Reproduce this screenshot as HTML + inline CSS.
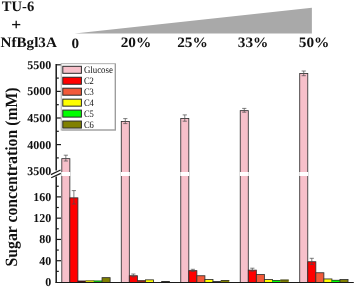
<!DOCTYPE html>
<html><head><meta charset="utf-8"><style>
html,body{margin:0;padding:0;background:#fff;}
svg{display:block;filter:blur(0.2px);}
text{font-family:"Liberation Serif",serif;fill:#111;text-rendering:geometricPrecision;}
.tl{font-size:12px;font-weight:bold;}
.hd{font-size:14.4px;font-weight:bold;}
.lg{font-size:9.9px;}
.yt{font-size:15.6px;font-weight:bold;}
</style></head><body>
<svg width="355" height="287" viewBox="0 0 355 287">
<rect width="355" height="287" fill="#fff"/>
<polygon points="74.6,33.4 311.9,7.8 311.9,33.4" fill="#a9a9a9"/>
<text x="1.8" y="10.8" class="hd" textLength="32.4" lengthAdjust="spacingAndGlyphs">TU-6</text>
<line x1="12.1" y1="24.6" x2="20.3" y2="24.6" stroke="#111" stroke-width="1.3"/>
<line x1="16.2" y1="20.8" x2="16.2" y2="28.3" stroke="#111" stroke-width="1.3"/>
<text x="0.6" y="47.2" class="hd" textLength="56.2" lengthAdjust="spacingAndGlyphs">NfBgl3A</text>
<text x="71.5" y="47.5" class="hd" textLength="7.6" lengthAdjust="spacingAndGlyphs">0</text>
<text x="120.7" y="47.4" class="hd" textLength="30.6" lengthAdjust="spacingAndGlyphs">20%</text>
<text x="177.2" y="47.4" class="hd" textLength="30.6" lengthAdjust="spacingAndGlyphs">25%</text>
<text x="237.8" y="47.4" class="hd" textLength="30.6" lengthAdjust="spacingAndGlyphs">33%</text>
<text x="298.8" y="47.4" class="hd" textLength="30.6" lengthAdjust="spacingAndGlyphs">50%</text>
<text transform="translate(16.6,266.4) scale(1.1,1) rotate(-90)" class="yt" textLength="179.0" lengthAdjust="spacingAndGlyphs">Sugar concentration (mM)</text>
<text x="51.3" y="175.20" text-anchor="end" class="tl">3500</text>
<text x="51.3" y="148.60" text-anchor="end" class="tl">4000</text>
<text x="51.3" y="122.00" text-anchor="end" class="tl">4500</text>
<text x="51.3" y="95.40" text-anchor="end" class="tl">5000</text>
<text x="51.3" y="68.80" text-anchor="end" class="tl">5500</text>
<text x="51.3" y="286.00" text-anchor="end" class="tl">0</text>
<text x="51.3" y="264.72" text-anchor="end" class="tl">40</text>
<text x="51.3" y="243.44" text-anchor="end" class="tl">80</text>
<text x="51.3" y="222.16" text-anchor="end" class="tl">120</text>
<text x="51.3" y="200.88" text-anchor="end" class="tl">160</text>
<rect x="61.80" y="158.65" width="8.05" height="123.80" fill="#f7c0ca" stroke="#303030" stroke-width="0.85"/>
<rect x="61.30" y="172.0" width="9.05" height="4.0" fill="#fff"/>
<line x1="65.83" y1="155.20" x2="65.83" y2="161.00" stroke="#4a4a4a" stroke-width="0.7"/>
<line x1="63.73" y1="155.20" x2="67.92" y2="155.20" stroke="#4a4a4a" stroke-width="0.7"/>
<line x1="63.73" y1="161.00" x2="67.92" y2="161.00" stroke="#4a4a4a" stroke-width="0.7"/>
<rect x="69.85" y="197.85" width="8.05" height="84.60" fill="#ff0000" stroke="#303030" stroke-width="0.85"/>
<line x1="73.88" y1="190.60" x2="73.88" y2="204.00" stroke="#4a4a4a" stroke-width="0.7"/>
<line x1="71.78" y1="190.60" x2="75.97" y2="190.60" stroke="#4a4a4a" stroke-width="0.7"/>
<line x1="71.78" y1="204.00" x2="75.97" y2="204.00" stroke="#4a4a4a" stroke-width="0.7"/>
<rect x="77.70" y="280.80" width="8.45" height="1.50" fill="#5a1010"/>
<line x1="77.70" y1="281.10" x2="86.15" y2="281.10" stroke="#222" stroke-width="0.7"/>
<rect x="85.75" y="280.50" width="8.45" height="1.80" fill="#ffff00"/>
<line x1="85.75" y1="280.80" x2="94.20" y2="280.80" stroke="#222" stroke-width="0.7"/>
<rect x="93.80" y="280.70" width="8.45" height="1.60" fill="#00ff00"/>
<line x1="93.80" y1="281.00" x2="102.25" y2="281.00" stroke="#222" stroke-width="0.7"/>
<rect x="102.05" y="277.65" width="8.05" height="4.80" fill="#808000" stroke="#303030" stroke-width="0.85"/>
<rect x="121.28" y="121.45" width="8.05" height="161.00" fill="#f7c0ca" stroke="#303030" stroke-width="0.85"/>
<rect x="120.78" y="172.0" width="9.05" height="4.0" fill="#fff"/>
<line x1="125.31" y1="118.60" x2="125.31" y2="123.60" stroke="#4a4a4a" stroke-width="0.7"/>
<line x1="123.21" y1="118.60" x2="127.41" y2="118.60" stroke="#4a4a4a" stroke-width="0.7"/>
<line x1="123.21" y1="123.60" x2="127.41" y2="123.60" stroke="#4a4a4a" stroke-width="0.7"/>
<rect x="129.33" y="275.75" width="8.05" height="6.70" fill="#ff0000" stroke="#303030" stroke-width="0.85"/>
<line x1="133.36" y1="274.00" x2="133.36" y2="276.80" stroke="#4a4a4a" stroke-width="0.7"/>
<line x1="131.26" y1="274.00" x2="135.46" y2="274.00" stroke="#4a4a4a" stroke-width="0.7"/>
<line x1="131.26" y1="276.80" x2="135.46" y2="276.80" stroke="#4a4a4a" stroke-width="0.7"/>
<rect x="137.18" y="280.40" width="8.45" height="1.90" fill="#a02818"/>
<line x1="137.18" y1="280.70" x2="145.63" y2="280.70" stroke="#222" stroke-width="0.7"/>
<rect x="145.43" y="279.85" width="8.05" height="2.60" fill="#ffff00" stroke="#303030" stroke-width="0.85"/>
<rect x="161.33" y="281.20" width="8.45" height="1.10" fill="#303018"/>
<line x1="161.33" y1="281.50" x2="169.78" y2="281.50" stroke="#222" stroke-width="0.7"/>
<rect x="180.76" y="118.55" width="8.05" height="163.90" fill="#f7c0ca" stroke="#303030" stroke-width="0.85"/>
<rect x="180.26" y="172.0" width="9.05" height="4.0" fill="#fff"/>
<line x1="184.78" y1="114.90" x2="184.78" y2="121.20" stroke="#4a4a4a" stroke-width="0.7"/>
<line x1="182.69" y1="114.90" x2="186.88" y2="114.90" stroke="#4a4a4a" stroke-width="0.7"/>
<line x1="182.69" y1="121.20" x2="186.88" y2="121.20" stroke="#4a4a4a" stroke-width="0.7"/>
<rect x="188.81" y="270.65" width="8.05" height="11.80" fill="#ff0000" stroke="#303030" stroke-width="0.85"/>
<line x1="192.84" y1="269.30" x2="192.84" y2="271.40" stroke="#4a4a4a" stroke-width="0.7"/>
<line x1="190.74" y1="269.30" x2="194.94" y2="269.30" stroke="#4a4a4a" stroke-width="0.7"/>
<line x1="190.74" y1="271.40" x2="194.94" y2="271.40" stroke="#4a4a4a" stroke-width="0.7"/>
<rect x="196.86" y="275.75" width="8.05" height="6.70" fill="#f25a3a" stroke="#303030" stroke-width="0.85"/>
<rect x="204.91" y="279.45" width="8.05" height="3.00" fill="#ffff00" stroke="#303030" stroke-width="0.85"/>
<rect x="212.76" y="281.30" width="8.45" height="1.00" fill="#303030"/>
<line x1="212.76" y1="281.60" x2="221.21" y2="281.60" stroke="#222" stroke-width="0.7"/>
<rect x="220.81" y="280.20" width="8.45" height="2.10" fill="#808000"/>
<line x1="220.81" y1="280.50" x2="229.26" y2="280.50" stroke="#222" stroke-width="0.7"/>
<rect x="240.24" y="110.65" width="8.05" height="171.80" fill="#f7c0ca" stroke="#303030" stroke-width="0.85"/>
<rect x="239.74" y="172.0" width="9.05" height="4.0" fill="#fff"/>
<line x1="244.27" y1="108.40" x2="244.27" y2="112.20" stroke="#4a4a4a" stroke-width="0.7"/>
<line x1="242.17" y1="108.40" x2="246.37" y2="108.40" stroke="#4a4a4a" stroke-width="0.7"/>
<line x1="242.17" y1="112.20" x2="246.37" y2="112.20" stroke="#4a4a4a" stroke-width="0.7"/>
<rect x="248.29" y="270.15" width="8.05" height="12.30" fill="#ff0000" stroke="#303030" stroke-width="0.85"/>
<line x1="252.32" y1="268.20" x2="252.32" y2="271.20" stroke="#4a4a4a" stroke-width="0.7"/>
<line x1="250.22" y1="268.20" x2="254.42" y2="268.20" stroke="#4a4a4a" stroke-width="0.7"/>
<line x1="250.22" y1="271.20" x2="254.42" y2="271.20" stroke="#4a4a4a" stroke-width="0.7"/>
<rect x="256.34" y="274.55" width="8.05" height="7.90" fill="#f25a3a" stroke="#303030" stroke-width="0.85"/>
<rect x="264.39" y="279.55" width="8.05" height="2.90" fill="#ffff00" stroke="#303030" stroke-width="0.85"/>
<rect x="272.24" y="280.20" width="8.45" height="2.10" fill="#00ff00"/>
<line x1="272.24" y1="280.50" x2="280.69" y2="280.50" stroke="#222" stroke-width="0.7"/>
<rect x="280.29" y="279.70" width="8.45" height="2.60" fill="#808000"/>
<line x1="280.29" y1="280.00" x2="288.74" y2="280.00" stroke="#222" stroke-width="0.7"/>
<rect x="299.72" y="73.55" width="8.05" height="208.90" fill="#f7c0ca" stroke="#303030" stroke-width="0.85"/>
<rect x="299.22" y="172.0" width="9.05" height="4.0" fill="#fff"/>
<line x1="303.74" y1="71.00" x2="303.74" y2="75.70" stroke="#4a4a4a" stroke-width="0.7"/>
<line x1="301.64" y1="71.00" x2="305.84" y2="71.00" stroke="#4a4a4a" stroke-width="0.7"/>
<line x1="301.64" y1="75.70" x2="305.84" y2="75.70" stroke="#4a4a4a" stroke-width="0.7"/>
<rect x="307.77" y="261.75" width="8.05" height="20.70" fill="#ff0000" stroke="#303030" stroke-width="0.85"/>
<line x1="311.79" y1="258.30" x2="311.79" y2="264.40" stroke="#4a4a4a" stroke-width="0.7"/>
<line x1="309.69" y1="258.30" x2="313.89" y2="258.30" stroke="#4a4a4a" stroke-width="0.7"/>
<line x1="309.69" y1="264.40" x2="313.89" y2="264.40" stroke="#4a4a4a" stroke-width="0.7"/>
<rect x="315.82" y="272.75" width="8.05" height="9.70" fill="#f25a3a" stroke="#303030" stroke-width="0.85"/>
<rect x="323.87" y="278.95" width="8.05" height="3.50" fill="#ffff00" stroke="#303030" stroke-width="0.85"/>
<rect x="331.72" y="280.00" width="8.45" height="2.30" fill="#00ff00"/>
<line x1="331.72" y1="280.30" x2="340.17" y2="280.30" stroke="#222" stroke-width="0.7"/>
<rect x="339.97" y="279.55" width="8.05" height="2.90" fill="#808000" stroke="#303030" stroke-width="0.85"/>
<line x1="56.20" y1="64.00" x2="56.20" y2="170.60" stroke="#1a1a1a" stroke-width="1.5"/>
<line x1="56.20" y1="176.60" x2="56.20" y2="283.00" stroke="#1a1a1a" stroke-width="1.5"/>
<line x1="55.60" y1="282.45" x2="353.80" y2="282.45" stroke="#1a1a1a" stroke-width="1.1"/>
<line x1="56.20" y1="157.90" x2="58.80" y2="157.90" stroke="#1a1a1a" stroke-width="1.2"/>
<line x1="56.20" y1="144.60" x2="61.00" y2="144.60" stroke="#1a1a1a" stroke-width="1.2"/>
<line x1="56.20" y1="131.30" x2="58.80" y2="131.30" stroke="#1a1a1a" stroke-width="1.2"/>
<line x1="56.20" y1="118.00" x2="61.00" y2="118.00" stroke="#1a1a1a" stroke-width="1.2"/>
<line x1="56.20" y1="104.70" x2="58.80" y2="104.70" stroke="#1a1a1a" stroke-width="1.2"/>
<line x1="56.20" y1="91.40" x2="61.00" y2="91.40" stroke="#1a1a1a" stroke-width="1.2"/>
<line x1="56.20" y1="78.10" x2="58.80" y2="78.10" stroke="#1a1a1a" stroke-width="1.2"/>
<line x1="56.20" y1="64.80" x2="61.00" y2="64.80" stroke="#1a1a1a" stroke-width="1.2"/>
<line x1="56.20" y1="271.36" x2="58.80" y2="271.36" stroke="#1a1a1a" stroke-width="1.2"/>
<line x1="56.20" y1="260.72" x2="61.00" y2="260.72" stroke="#1a1a1a" stroke-width="1.2"/>
<line x1="56.20" y1="250.08" x2="58.80" y2="250.08" stroke="#1a1a1a" stroke-width="1.2"/>
<line x1="56.20" y1="239.44" x2="61.00" y2="239.44" stroke="#1a1a1a" stroke-width="1.2"/>
<line x1="56.20" y1="228.80" x2="58.80" y2="228.80" stroke="#1a1a1a" stroke-width="1.2"/>
<line x1="56.20" y1="218.16" x2="61.00" y2="218.16" stroke="#1a1a1a" stroke-width="1.2"/>
<line x1="56.20" y1="207.52" x2="58.80" y2="207.52" stroke="#1a1a1a" stroke-width="1.2"/>
<line x1="56.20" y1="196.88" x2="61.00" y2="196.88" stroke="#1a1a1a" stroke-width="1.2"/>
<line x1="56.20" y1="186.24" x2="58.80" y2="186.24" stroke="#1a1a1a" stroke-width="1.2"/>
<line x1="50.90" y1="174.60" x2="60.60" y2="170.00" stroke="#1a1a1a" stroke-width="1.2"/>
<line x1="51.20" y1="177.80" x2="60.80" y2="173.40" stroke="#1a1a1a" stroke-width="1.2"/>
<rect x="61.25" y="63.6" width="54.1" height="66.4" fill="#fff" stroke="#bcbcbc" stroke-width="1.2"/>
<polyline points="61.75,130.0 115.35,130.0 115.35,64.1" fill="none" stroke="#9c9c9c" stroke-width="1.2"/>
<rect x="62.8" y="66.30" width="18.6" height="7.0" fill="#f7c0ca" stroke="#2a2a2a" stroke-width="1.0"/>
<text x="83.9" y="73.40" class="lg" textLength="29.0" lengthAdjust="spacingAndGlyphs">Glucose</text>
<rect x="62.8" y="77.25" width="18.6" height="7.0" fill="#ff0000" stroke="#2a2a2a" stroke-width="1.0"/>
<text x="83.9" y="84.35" class="lg" textLength="10.0" lengthAdjust="spacingAndGlyphs">C2</text>
<rect x="62.8" y="88.20" width="18.6" height="7.0" fill="#f25a3a" stroke="#2a2a2a" stroke-width="1.0"/>
<text x="83.9" y="95.30" class="lg" textLength="10.0" lengthAdjust="spacingAndGlyphs">C3</text>
<rect x="62.8" y="99.15" width="18.6" height="7.0" fill="#ffff00" stroke="#2a2a2a" stroke-width="1.0"/>
<text x="83.9" y="106.25" class="lg" textLength="10.0" lengthAdjust="spacingAndGlyphs">C4</text>
<rect x="62.8" y="110.10" width="18.6" height="7.0" fill="#00ff00" stroke="#2a2a2a" stroke-width="1.0"/>
<text x="83.9" y="117.20" class="lg" textLength="10.0" lengthAdjust="spacingAndGlyphs">C5</text>
<rect x="62.8" y="121.05" width="18.6" height="7.0" fill="#808000" stroke="#2a2a2a" stroke-width="1.0"/>
<text x="83.9" y="128.15" class="lg" textLength="10.0" lengthAdjust="spacingAndGlyphs">C6</text>
</svg>
</body></html>
